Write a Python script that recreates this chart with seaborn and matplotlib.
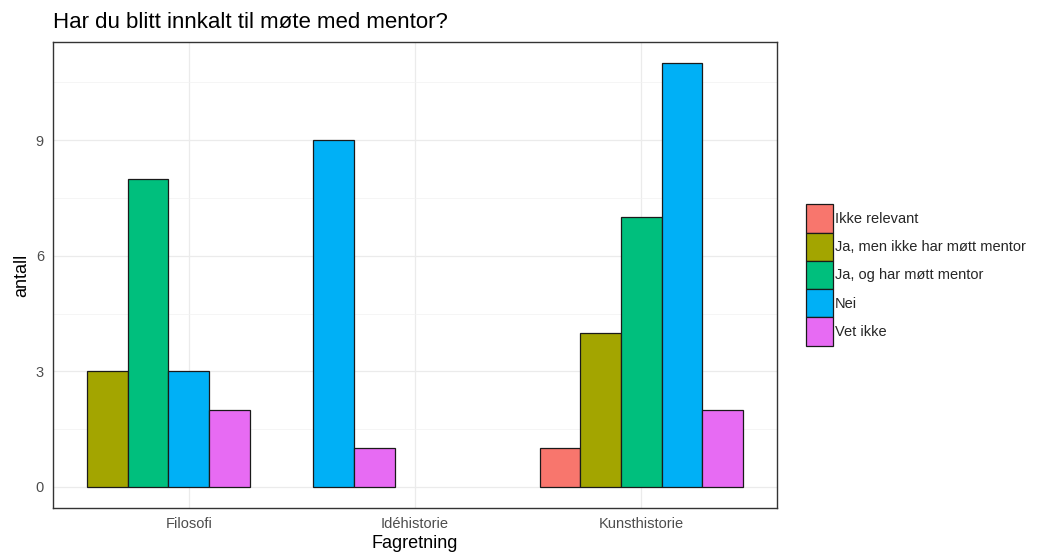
import pandas as pd
import seaborn as sns
import matplotlib.pyplot as plt
from matplotlib.patches import Patch
from matplotlib.ticker import MultipleLocator

# Data lest av figuren
fagretninger = ["Filosofi", "Idéhistorie", "Kunsthistorie"]
svar_kategorier = ["Ikke relevant", "Ja, men ikke har møtt mentor",
                   "Ja, og har møtt mentor", "Nei", "Vet ikke"]
farger = ["#F8766D", "#A3A500", "#00BF7D", "#00B0F6", "#E76BF3"]

# antall per svar (0 = ingen stolpe)
filosofi = [0, 3, 8, 3, 2]
idehistorie = [0, 0, 0, 9, 1]
kunsthistorie = [1, 4, 7, 11, 2]

sns.set_style("white")
plt.rcParams["font.family"] = ["Liberation Sans", "DejaVu Sans"]

# Bygg tabell, venstrejustert dodge som ggplot preserve="single"
gruppe_bredde = 0.9
stolpe = gruppe_bredde / len(svar_kategorier)
rader = []
for g, (fag, verdier) in enumerate(zip(fagretninger, [filosofi, idehistorie, kunsthistorie])):
    plass = 0
    for svar, n in zip(svar_kategorier, verdier):
        if n == 0:
            continue
        rader.append({"Fagretning": fag, "Svar": svar, "antall": n,
                      "xpos": g - gruppe_bredde / 2 + stolpe * (plass + 0.5)})
        plass += 1
df = pd.DataFrame(rader)

fig = plt.figure(figsize=(10.39, 5.57), dpi=100)
ax = fig.add_axes([0.051, 0.088, 0.697, 0.8366])

sns.barplot(data=df, x="xpos", y="antall", hue="Svar", hue_order=svar_kategorier,
            palette=farger, saturation=1, native_scale=True, dodge=False, width=1.0,
            orient="x", errorbar=None, edgecolor="#1a1a1a", linewidth=0.9,
            legend=False, ax=ax, zorder=3)

ax.set_xlim(-0.6, 2.6)
ax.set_ylim(-0.55, 11.55)
ax.set_xticks(range(len(fagretninger)))
ax.set_xticklabels(fagretninger)
ax.yaxis.set_major_locator(MultipleLocator(3))
ax.yaxis.set_minor_locator(MultipleLocator(1.5))

ax.grid(True, which="major", color="#EBEBEB", linewidth=0.9, zorder=0)
ax.grid(True, which="minor", axis="y", color="#F2F2F2", linewidth=0.5, zorder=0)
ax.set_axisbelow(True)

for s in ax.spines.values():
    s.set_color("#333333")
    s.set_linewidth(1.0)

ax.tick_params(axis="both", which="major", length=3.5, width=0.8, color="#333333",
               labelcolor="#4D4D4D", labelsize=10.5, pad=3)
ax.tick_params(axis="both", which="minor", length=0)

ax.set_xlabel("Fagretning", fontsize=13, color="black", labelpad=3)
ax.set_ylabel("antall", fontsize=13, color="black", labelpad=4)
ax.set_title("Har du blitt innkalt til møte med mentor?", loc="left",
             fontsize=16, color="black", pad=10)

handles = [Patch(facecolor=c, edgecolor="#1a1a1a", linewidth=0.9) for c in farger]
ax.legend(handles, svar_kategorier, loc="center left", bbox_to_anchor=(1.032, 0.5),
          frameon=False, fontsize=10.5, handlelength=1.85, handleheight=2.6,
          labelspacing=0.0, handletextpad=0.1, borderaxespad=0)

fig.savefig("out.png", dpi=100)
